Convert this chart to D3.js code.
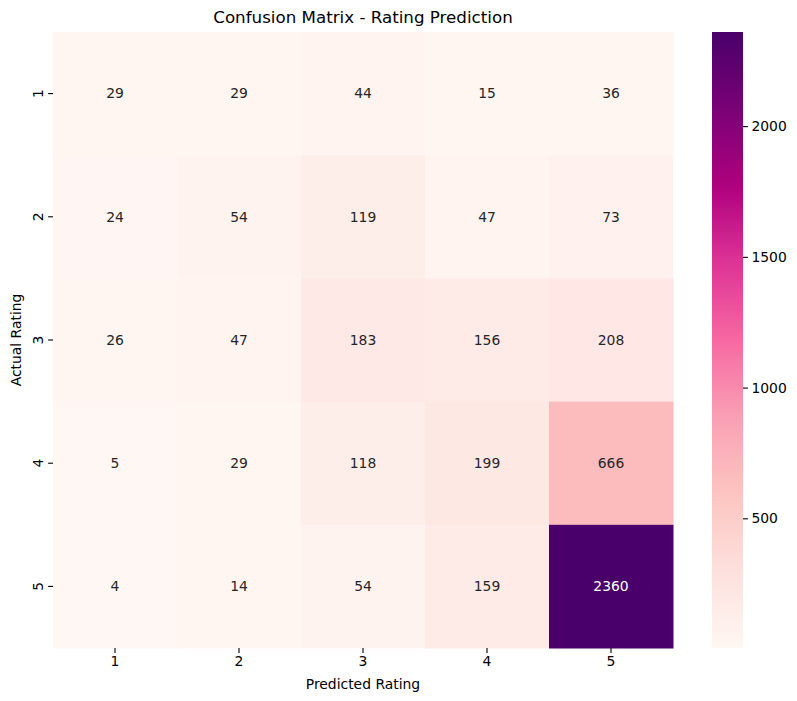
<!DOCTYPE html>
<html>
<head>
<meta charset="utf-8">
<script src="https://cdn.jsdelivr.net/npm/d3@7"></script>
<style>
  body { margin: 0; background: #fff; }
  svg { font-family: "DejaVu Sans", sans-serif; }
</style>
</head>
<body>
<svg id="svg" width="797" height="701"></svg>
<script>
// confusion matrix values (rows = actual, cols = predicted)
const labels = ['1', '2', '3', '4', '5'];
const matrix = [
    [29, 29, 44, 15, 36],
    [24, 54, 119, 47, 73],
    [26, 47, 183, 156, 208],
    [5, 29, 118, 199, 666],
    [4, 14, 54, 159, 2360]
];
const cbarTicks = [500, 1000, 1500, 2000];
// matplotlib RdPu anchor colours
const rdpu = ['#fff7f3', '#fde0dd', '#fcc5c0', '#fa9fb5', '#f768a1', '#dd3497', '#ae017e', '#7a0177', '#49006a'];

const svg = d3.select('#svg');

const plotL = 53, plotR = 673, plotT = 32, plotB = 648;

const x = d3.scaleBand().domain(labels).range([plotL, plotR]);
const y = d3.scaleBand().domain(labels).range([plotT, plotB]);

const flat = matrix.flat();
const vmin = d3.min(flat), vmax = d3.max(flat);

const norm = d3.scaleLinear().domain([vmin, vmax]).range([0, 1]).clamp(true);
const rdpuScale = d3.scaleLinear()
    .domain(rdpu.map((c, i) => i / (rdpu.length - 1)))
    .range(rdpu)
    .interpolate(d3.interpolateRgb);
const color = v => rdpuScale(norm(v));

const cells = [];
matrix.forEach((row, i) => row.forEach((v, j) => cells.push({ r: labels[i], c: labels[j], v: v })));

svg.selectAll('rect.cell')
    .data(cells)
    .join('rect')
    .attr('class', 'cell')
    .attr('x', d => x(d.c))
    .attr('y', d => y(d.r))
    .attr('width', x.bandwidth() + 0.5)
    .attr('height', y.bandwidth() + 0.5)
    .attr('fill', d => color(d.v));

function lum(c) {
    const rgb = d3.rgb(c);
    const f = v => {
        v = v / 255;
        return v <= 0.03928 ? v / 12.92 : Math.pow((v + 0.055) / 1.055, 2.4);
    };
    return 0.2126 * f(rgb.r) + 0.7152 * f(rgb.g) + 0.0722 * f(rgb.b);
}

svg.selectAll('text.annot')
    .data(cells)
    .join('text')
    .attr('class', 'annot')
    .attr('x', d => x(d.c) + x.bandwidth() / 2)
    .attr('y', d => y(d.r) + y.bandwidth() / 2)
    .attr('dy', '0.35em')
    .attr('text-anchor', 'middle')
    .attr('font-size', 13.9)
    .attr('fill', d => lum(color(d.v)) > 0.408 ? '#262626' : '#ffffff')
    .text(d => d.v);

// x axis
const xAxis = svg.append('g').attr('transform', `translate(0,${plotB})`)
    .call(d3.axisBottom(x).tickSize(4.9).tickPadding(3.5));
xAxis.select('.domain').remove();
xAxis.selectAll('text').attr('font-size', 13.9).attr('fill', '#000').attr('font-family', 'DejaVu Sans');
xAxis.selectAll('line').attr('stroke', '#000').attr('stroke-width', 1.1);

// y axis
const yAxis = svg.append('g').attr('transform', `translate(${plotL},0)`)
    .call(d3.axisLeft(y).tickSize(4.9).tickPadding(3.5));
yAxis.select('.domain').remove();
yAxis.selectAll('line').attr('stroke', '#000').attr('stroke-width', 1.1);
yAxis.selectAll('text')
    .attr('font-size', 13.9).attr('fill', '#000').attr('font-family', 'DejaVu Sans')
    .attr('x', null)
    .attr('text-anchor', 'middle')
    .attr('transform', 'translate(-15,0) rotate(-90)')
    .attr('y', 0)
    .attr('dy', '0.35em');

svg.append('text')
    .attr('x', (plotL + plotR) / 2).attr('y', 689)
    .attr('text-anchor', 'middle').attr('font-size', 13.9)
    .text('Predicted Rating');

svg.append('text')
    .attr('transform', `translate(21,${(plotT + plotB) / 2}) rotate(-90)`)
    .attr('text-anchor', 'middle').attr('font-size', 13.9)
    .text('Actual Rating');

svg.append('text')
    .attr('x', (plotL + plotR) / 2).attr('y', 23)
    .attr('text-anchor', 'middle').attr('font-size', 16.7)
    .text('Confusion Matrix - Rating Prediction');

// colorbar
const cbX = 712, cbW = 31;
const defs = svg.append('defs');
const grad = defs.append('linearGradient').attr('id', 'cbgrad')
    .attr('x1', 0).attr('y1', 1).attr('x2', 0).attr('y2', 0);
d3.range(0, 1.0001, 0.02).forEach(t => {
    grad.append('stop').attr('offset', t).attr('stop-color', rdpuScale(t));
});
svg.append('rect')
    .attr('x', cbX).attr('y', plotT).attr('width', cbW).attr('height', plotB - plotT)
    .attr('fill', 'url(#cbgrad)');

const cbScale = d3.scaleLinear().domain([vmin, vmax]).range([plotB, plotT]);
const cbAxis = svg.append('g').attr('transform', `translate(${cbX + cbW},0)`)
    .call(d3.axisRight(cbScale).tickValues(cbarTicks).tickFormat(d3.format('d')).tickSize(4.9).tickPadding(3.5));
cbAxis.select('.domain').remove();
cbAxis.selectAll('line').attr('stroke', '#000').attr('stroke-width', 1.1);
cbAxis.selectAll('text').attr('font-size', 13.9).attr('fill', '#000').attr('font-family', 'DejaVu Sans');
</script>
</body>
</html>
